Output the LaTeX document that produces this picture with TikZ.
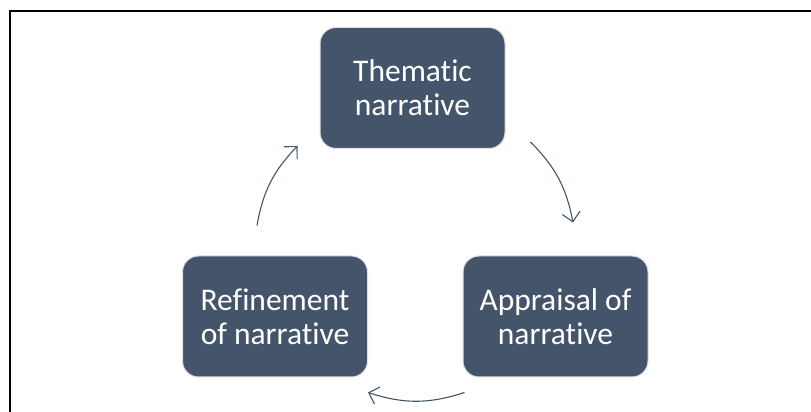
\documentclass[tikz,border=0pt]{standalone}
\usepackage{fontspec}
\setmainfont{Carlito}[RawFeature=-liga]
\usepackage{tikz}
\usetikzlibrary{shapes,arrows,arrows.meta,positioning}
\definecolor{slate}{HTML}{44546A}

\begin{document}
\begin{tikzpicture}[x=1pt, y=1pt]
	\tikzstyle{Stage}	= [rectangle, rounded corners=16pt, fill=slate, draw=black!12, line width=1pt, minimum width=185pt, minimum height=121pt, text=white, align=center, font=\fontsize{31.5}{34}\selectfont]
	\tikzstyle{Cycle}	= [slate, line width=1.1pt, -{Straight Barb[length=9pt,width=18pt]}]
	\tikzstyle{Frame}	= [black, line width=2pt]
	
	\useasboundingbox (0,0) rectangle (811,412);
	\draw [Frame] (10,0) -- (10,401) -- (811,401);
	
	\node (them) at (412.5, 324) [Stage] {Thematic\\narrative};
	\node (appr) at (555.5, 95.5) [Stage] {Appraisal of\\narrative};
	\node (refi) at (275, 95.5) [Stage] {Refinement\\of narrative};
	
	\draw ([xshift=25pt,yshift=7pt]them.south east) to [bend left=17] ([xshift=17.5pt,yshift=33pt]appr.north) [Cycle];
	\draw ([xshift=2pt,yshift=-15pt]appr.south west) to [bend left=18] ([yshift=-15pt]refi.south east) [Cycle];
	\draw ([xshift=-18pt,yshift=30pt]refi.north) to [bend left=17] ([xshift=-22pt,yshift=3pt]them.south west) [Cycle];
\end{tikzpicture}
\end{document}
